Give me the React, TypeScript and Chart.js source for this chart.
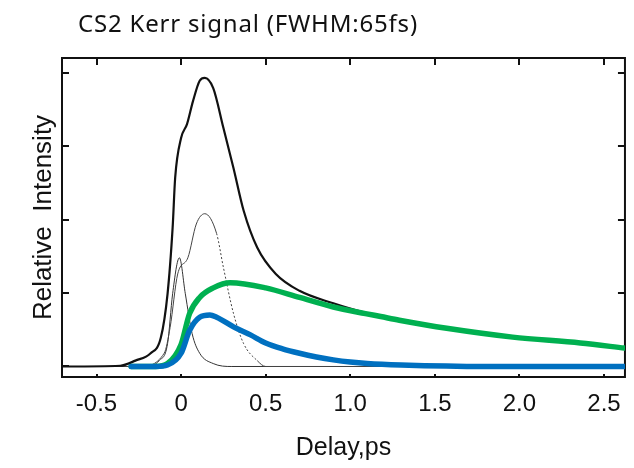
import React, { useEffect, useRef } from "react";
import { Chart, registerables } from "chart.js";

Chart.register(...registerables);

const TITLE = "CS2 Kerr signal (FWHM:65fs)";
const X_LABEL = "Delay,ps";
const Y_LABEL = "Relative  Intensity";

const X_MIN = -0.704;
const X_MAX = 2.624;
const Y_MIN = -0.143;
const Y_MAX = 4.2;
const X_TICKS = [-0.5, 0, 0.5, 1.0, 1.5, 2.0, 2.5];
const Y_TICKS = [0, 1, 2, 3, 4];

// total measured signal (thick black)
const totalX = [-0.704, -0.36, -0.27, -0.18, -0.12, -0.08, -0.05, -0.035, 0, 0.035, 0.07, 0.11, 0.14, 0.19, 0.25, 0.31, 0.37, 0.45, 0.56, 0.7, 0.9, 1.09, 1.18, 1.29, 1.57, 1.96, 2.36, 2.624];
const totalY = [0, 0.01, 0.08, 0.18, 0.39, 0.99, 1.89, 2.57, 3.11, 3.3, 3.61, 3.89, 3.93, 3.79, 3.25, 2.7, 2.12, 1.62, 1.26, 1.03, 0.86, 0.73, 0.68, 0.63, 0.52, 0.4, 0.32, 0.25];

// intermediate component (thin grey)
const midX = [-0.704, -0.25, -0.1, -0.065, -0.02, 0.04, 0.09, 0.14, 0.21, 0.25, 0.31, 0.37, 0.45, 0.5, 2.624];
const midY = [0, 0, 0.18, 0.53, 1.26, 1.48, 1.94, 2.08, 1.81, 1.35, 0.72, 0.31, 0.08, 0, 0];

// instantaneous (electronic) component (thin grey)
const fastX = [-0.704, -0.2, -0.13, -0.08, -0.05, -0.01, 0.025, 0.065, 0.11, 0.19, 0.3, 2.624];
const fastY = [0, 0, 0.08, 0.31, 0.99, 1.48, 0.99, 0.45, 0.18, 0.04, 0, 0];

// green overlay
const greenX = [-0.295, -0.15, -0.08, 0, 0.05, 0.11, 0.19, 0.29, 0.5, 0.7, 0.9, 1.09, 1.18, 1.29, 1.57, 1.96, 2.36, 2.624];
const greenY = [0, 0, 0.04, 0.3, 0.72, 0.94, 1.07, 1.14, 1.07, 0.94, 0.81, 0.72, 0.68, 0.63, 0.52, 0.4, 0.32, 0.25];

// blue overlay
const blueX = [-0.295, -0.15, -0.08, 0, 0.05, 0.11, 0.17, 0.21, 0.31, 0.41, 0.5, 0.6, 0.7, 0.8, 0.9, 1.0, 1.1, 1.3, 1.8, 2.624];
const blueY = [0, 0, 0.02, 0.18, 0.49, 0.67, 0.7, 0.67, 0.54, 0.43, 0.32, 0.24, 0.18, 0.13, 0.09, 0.06, 0.04, 0.02, 0.0, 0.0];

const pts = (xs: number[], ys: number[]) => xs.map((x, i) => ({ x, y: ys[i] }));

const framePlugin = {
  id: "frame",
  beforeDatasetsDraw(chart: any) {
    const { ctx, chartArea: a, scales } = chart;
    const x = scales.x;
    const y = scales.y;
    ctx.save();
    ctx.strokeStyle = "#111";
    ctx.lineWidth = 2;
    ctx.strokeRect(a.left, a.top, a.right - a.left, a.bottom - a.top);
    ctx.beginPath();
    X_TICKS.forEach((v) => {
      const px = Math.round(x.getPixelForValue(v));
      ctx.moveTo(px, a.top);
      ctx.lineTo(px, a.top + 7);
      ctx.moveTo(px, a.bottom);
      ctx.lineTo(px, a.bottom - 3);
    });
    Y_TICKS.forEach((v) => {
      const py = Math.round(y.getPixelForValue(v));
      ctx.moveTo(a.left, py);
      ctx.lineTo(a.left + 7, py);
      ctx.moveTo(a.right, py);
      ctx.lineTo(a.right - 7, py);
    });
    ctx.stroke();
    ctx.restore();
  },
  afterDraw(chart: any) {
    const { ctx } = chart;
    ctx.save();
    ctx.font = '24px "Noto Sans"';
    try {
      (ctx as any).letterSpacing = "0.8px";
    } catch (e) {}
    ctx.fillStyle = "#111";
    ctx.textBaseline = "alphabetic";
    ctx.textAlign = "left";
    ctx.fillText(TITLE, 78, 32);
    ctx.restore();
  },
};

export default function App() {
  const ref = useRef<HTMLCanvasElement | null>(null);
  useEffect(() => {
    if (!ref.current) return;
    const chart = new Chart(ref.current, {
      type: "line",
      data: {
        datasets: [
          {
            label: "blue",
            data: pts(blueX, blueY),
            borderColor: "#0070C0",
            borderWidth: 5.5,
            pointRadius: 0,
            cubicInterpolationMode: "monotone",
            borderCapStyle: "round",
          },
          {
            label: "green",
            data: pts(greenX, greenY),
            borderColor: "#00B050",
            borderWidth: 5.5,
            pointRadius: 0,
            cubicInterpolationMode: "monotone",
            borderCapStyle: "round",
          },
          {
            label: "total",
            data: pts(totalX, totalY),
            borderColor: "#111",
            borderWidth: 2.2,
            pointRadius: 0,
            cubicInterpolationMode: "monotone",
          },
          {
            label: "mid",
            data: pts(midX, midY),
            borderColor: "#444",
            borderWidth: 1,
            pointRadius: 0,
            cubicInterpolationMode: "monotone",
            segment: {
              borderDash: (c: any) => (c.p0.parsed.x >= 0.21 && c.p0.parsed.x < 0.45 ? [2, 2] : undefined),
            },
          },
          {
            label: "fast",
            data: pts(fastX, fastY),
            borderColor: "#333",
            borderWidth: 1,
            pointRadius: 0,
            cubicInterpolationMode: "monotone",
          },
        ],
      },
      options: {
        responsive: false,
        animation: false,
        devicePixelRatio: 1,
        layout: { padding: { top: 58, right: 9, left: 0, bottom: 0 } },
        plugins: {
          legend: { display: false },
          title: { display: false },
          tooltip: { enabled: false },
        },
        scales: {
          x: {
            type: "linear",
            min: X_MIN,
            max: X_MAX,
            afterBuildTicks: (s: any) => {
              s.ticks = X_TICKS.map((v) => ({ value: v }));
            },
            afterFit: (s: any) => {
              s.height = 91;
            },
            ticks: {
              autoSkip: false,
              maxRotation: 0,
              padding: 13,
              color: "#111",
              font: { family: '"Liberation Sans", Arial, sans-serif', size: 24 },
              callback: (v: any) => (Number(v) === 0 ? "0" : Number(v).toFixed(1)),
            },
            grid: { display: false, drawTicks: false },
            border: { display: false },
            title: {
              display: true,
              text: X_LABEL,
              color: "#111",
              font: { family: '"Liberation Sans", Arial, sans-serif', size: 25 },
              padding: { top: 0, bottom: 5 },
            },
          },
          y: {
            type: "linear",
            min: Y_MIN,
            max: Y_MAX,
            afterFit: (s: any) => {
              s.width = 62;
            },
            ticks: { display: false },
            grid: { display: false, drawTicks: false },
            border: { display: false },
            title: {
              display: true,
              text: Y_LABEL,
              color: "#111",
              font: { family: '"Liberation Sans", Arial, sans-serif', size: 26 },
              padding: { top: 28, bottom: 0 },
            },
          },
        },
      },
      plugins: [framePlugin],
    } as any);
    return () => chart.destroy();
  }, []);
  return (
    <div style={{ position: "absolute", left: 0, top: 0, width: 634, height: 468, background: "#fff" }}>
      <canvas ref={ref} width={634} height={468} style={{ display: "block" }} />
    </div>
  );
}
